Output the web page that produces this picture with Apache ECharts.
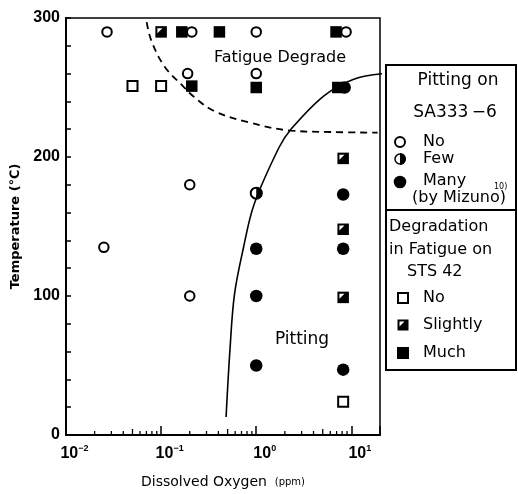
<!DOCTYPE html>
<html><head><meta charset="utf-8">
<script src="https://cdn.jsdelivr.net/npm/echarts@6/dist/echarts.min.js"></script>
<style>html,body{margin:0;padding:0;background:#fff}#c{width:518px;height:494px}</style>
</head><body><div id="c"></div>
<script>
// ---- data ----
const yTickLabels = [0, 100, 200, 300];
const xDecades = [0.01, 0.1, 1, 10];
const minorTickValues = [0.02,0.03,0.04,0.05,0.06,0.07,0.08,0.09,0.2,0.3,0.4,0.5,0.6,0.7,0.8,0.9,2,3,4,5,6,7,8,9];
// Pitting on SA333-6 (by Mizuno)
const pitNo   = [[0.027,290],[0.21,290],[1.0,290],[8.8,290],[0.19,260],[1.0,260],[0.2,180],[0.025,135],[0.2,100]];
const pitFew  = [[1.0,174]];
const pitMany = [[8.5,250],[8.2,173],[1.0,134],[8.2,134],[1.0,100],[1.0,50],[8.2,47]];
// Degradation in fatigue on STS 42
const fatNo     = [[0.05,251],[0.1,251],[8.2,24]];
const fatSlight = [[0.1,290],[8.2,199],[8.2,148],[8.2,99]];
const fatMuch   = [[0.165,290],[0.41,290],[6.9,290],[0.21,251],[1.0,250],[7.2,250]];
// boundaries
const boundaryFatigue = [[0.0705,297],[0.0796,283],[0.109,265],[0.164,252],[0.224,243],[0.363,233],[0.825,225],[2.32,219],[6.1,218],[18.9,217.5]];
const boundaryPitting = [[0.482,13],[0.53,62],[0.59,101],[0.73,134],[0.95,166],[1.74,207],[2.32,220],[5.15,244],[10.6,256],[21.9,260]];

const FONT = 'DejaVu Sans';
const NUMFONT = "'Liberation Sans Narrow', 'Liberation Sans', sans-serif";

function slightRender(params, api) {
  const p = api.coord([api.value(0), api.value(1)]);
  const s = 11.5, h = s / 2;
  return {type: 'group', children: [
    {type: 'rect', shape: {x: p[0]-h, y: p[1]-h, width: s, height: s}, style: {fill: '#000'}},
    {type: 'polygon', shape: {points: [[p[0]-h+2, p[1]-h+2], [p[0]+h-4.5, p[1]-h+2], [p[0]-h+2, p[1]+h-4.5]]}, style: {fill: '#fff'}}
  ]};
}
function fewRender(params, api) {
  const p = api.coord([api.value(0), api.value(1)]);
  return {type: 'group', children: [
    {type: 'circle', shape: {cx: p[0], cy: p[1], r: 5.5}, style: {fill: '#fff', stroke: '#000', lineWidth: 2}},
    {type: 'sector', shape: {cx: p[0], cy: p[1], r: 6.2, r0: 0, startAngle: -Math.PI/2, endAngle: Math.PI/2, clockwise: true}, style: {fill: '#000'}}
  ]};
}
function minorRender(params, api) {
  const v = api.value(0);
  const p = api.coord([v, 0]);
  const m = Math.round(v / Math.pow(10, Math.floor(Math.log10(v) + 1e-9)));
  const len = m === 5 ? 6 : 4;
  return {type: 'line', shape: {x1: p[0], y1: p[1], x2: p[0], y2: p[1] - len}, style: {stroke: '#000', lineWidth: 1.3}};
}

const chart = echarts.init(document.getElementById('c'), null, {renderer: 'canvas'});
const legendX = 386, legendR = 516;
const txt = (text, x, y, opt) => Object.assign({type: 'text', x: x, y: y, z: 101,
  style: Object.assign({text: text, fontFamily: FONT, fontSize: 16, fill: '#000', align: 'left', verticalAlign: 'middle'}, (opt||{}))});

chart.setOption({
  animation: false,
  backgroundColor: '#fff',
  grid: {left: 66, top: 18, width: 314, height: 425, show: true, borderColor: '#000', borderWidth: 1.5, backgroundColor: 'transparent'},
  xAxis: {
    type: 'log', logBase: 10, min: 0.01, max: 20,
    axisLine: {lineStyle: {color: '#000', width: 2}},
    axisTick: {inside: true, length: 9, lineStyle: {color: '#000', width: 1.5}},
    splitLine: {show: false},
    axisLabel: {
      margin: 9, padding: [0, 0, 0, 17],
      formatter: function (v) {
        const e = Math.round(Math.log10(v));
        if (xDecades.indexOf(Math.pow(10, e)) < 0 || Math.abs(v - Math.pow(10, e)) > 1e-6 * v) return '';
        return '{b|10}{s|' + (e < 0 ? '\u2212' + (-e) : e) + '}';
      },
      rich: {
        b: {fontFamily: NUMFONT, fontWeight: 'bold', fontSize: 16, color: '#000', lineHeight: 18, verticalAlign: 'bottom'},
        s: {fontFamily: NUMFONT, fontWeight: 'bold', fontSize: 9, color: '#000', verticalAlign: 'top'}
      }
    },
    name: '{a|Dissolved Oxygen}{sp|  }{b|(ppm)}',
    nameLocation: 'middle', nameGap: 40,
    nameTextStyle: {rich: {
      a: {fontFamily: FONT, fontSize: 14, color: '#000'},
      sp: {fontSize: 14},
      b: {fontFamily: FONT, fontSize: 10, color: '#000'}
    }}
  },
  yAxis: {
    type: 'value', min: 0, max: 300, interval: 20,
    axisLine: {show: true, lineStyle: {color: '#000', width: 2}},
    axisTick: {show: true, inside: true, length: 5, lineStyle: {color: '#000', width: 1.5}},
    splitLine: {show: false},
    axisLabel: {margin: 6, fontFamily: NUMFONT, fontWeight: 'bold', fontSize: 16, color: '#000',
      formatter: v => yTickLabels.indexOf(v) >= 0 ? String(v) : ''},
    name: 'Temperature (\u2103)', nameLocation: 'middle', nameGap: 44,
    nameTextStyle: {fontFamily: FONT, fontWeight: 'bold', fontSize: 13, color: '#000'}
  },
  series: [
    {type: 'custom', name: 'minor', renderItem: minorRender, data: minorTickValues.map(v => [v]), silent: true, clip: false},
    {type: 'line', name: 'Fatigue boundary', data: boundaryFatigue, smooth: 0.4, showSymbol: false, symbol: 'none',
      lineStyle: {color: '#000', width: 1.8, type: [7, 5]}},
    {type: 'line', name: 'Pitting boundary', data: boundaryPitting, smooth: 0.35, showSymbol: false, symbol: 'none', clip: false,
      lineStyle: {color: '#000', width: 1.6}},
    {type: 'scatter', name: 'Fatigue No', data: fatNo, symbol: 'rect', symbolSize: 10,
      itemStyle: {color: '#fff', borderColor: '#000', borderWidth: 2, opacity: 1}},
    {type: 'custom', name: 'Fatigue Slightly', data: fatSlight, renderItem: slightRender},
    {type: 'scatter', name: 'Fatigue Much', data: fatMuch, symbol: 'rect', symbolSize: 11.5,
      itemStyle: {color: '#000', opacity: 1}},
    {type: 'scatter', name: 'Pitting No', data: pitNo, symbol: 'circle', symbolSize: 9.5,
      itemStyle: {color: '#fff', borderColor: '#000', borderWidth: 2, opacity: 1}},
    {type: 'custom', name: 'Pitting Few', data: pitFew, renderItem: fewRender},
    {type: 'scatter', name: 'Pitting Many', data: pitMany, symbol: 'circle', symbolSize: 12.5,
      itemStyle: {color: '#000', opacity: 1}}
  ],
  graphic: [
    {type: 'text', x: 280, y: 58, z: 50, style: {text: 'Fatigue Degrade', fontFamily: FONT, fontSize: 16, fill: '#000', align: 'center', verticalAlign: 'middle'}},
    {type: 'text', x: 302, y: 340, z: 50, style: {text: 'Pitting', fontFamily: FONT, fontSize: 17, fill: '#000', align: 'center', verticalAlign: 'middle'}},
    {type: 'rect', z: 100, shape: {x: legendX, y: 65, width: legendR - legendX, height: 305}, style: {fill: '#fff', stroke: '#000', lineWidth: 2}},
    {type: 'line', z: 101, shape: {x1: legendX, y1: 210, x2: legendR, y2: 210}, style: {stroke: '#000', lineWidth: 2}},
    txt('Pitting on', 458, 81, {align: 'center', fontSize: 17}),
    txt('SA333\u2009\u22126', 455, 113, {align: 'center', fontSize: 17}),
    {type: 'circle', z: 101, shape: {cx: 400, cy: 142, r: 5}, style: {fill: '#fff', stroke: '#000', lineWidth: 2}},
    txt('No', 423, 142),
    {type: 'circle', z: 101, shape: {cx: 400, cy: 159, r: 5}, style: {fill: '#fff', stroke: '#000', lineWidth: 1.5}},
    {type: 'sector', z: 102, shape: {cx: 400, cy: 159, r: 6, r0: 0, startAngle: -Math.PI/2, endAngle: Math.PI/2, clockwise: true}, style: {fill: '#000'}},
    txt('Few', 423, 159),
    {type: 'circle', z: 101, shape: {cx: 400, cy: 182, r: 6.3}, style: {fill: '#000'}},
    txt('Many', 423, 181),
    txt('10)', 494, 187, {fontSize: 8}),
    txt('(by Mizuno)', 459, 198, {align: 'center'}),
    txt('Degradation', 389, 227),
    txt('in Fatigue on', 389, 250),
    txt('STS 42', 407, 272),
    {type: 'rect', z: 101, shape: {x: 398, y: 293, width: 10, height: 10}, style: {fill: '#fff', stroke: '#000', lineWidth: 2}},
    txt('No', 423, 298),
    {type: 'rect', z: 101, shape: {x: 397.5, y: 319.5, width: 11, height: 11}, style: {fill: '#000'}},
    {type: 'polygon', z: 102, shape: {points: [[399.5, 321.5], [404.5, 321.5], [399.5, 326.5]]}, style: {fill: '#fff'}},
    txt('Slightly', 423, 325),
    {type: 'rect', z: 101, shape: {x: 397, y: 347, width: 12, height: 12}, style: {fill: '#000'}},
    txt('Much', 423, 353)
  ]
});
</script></body></html>
